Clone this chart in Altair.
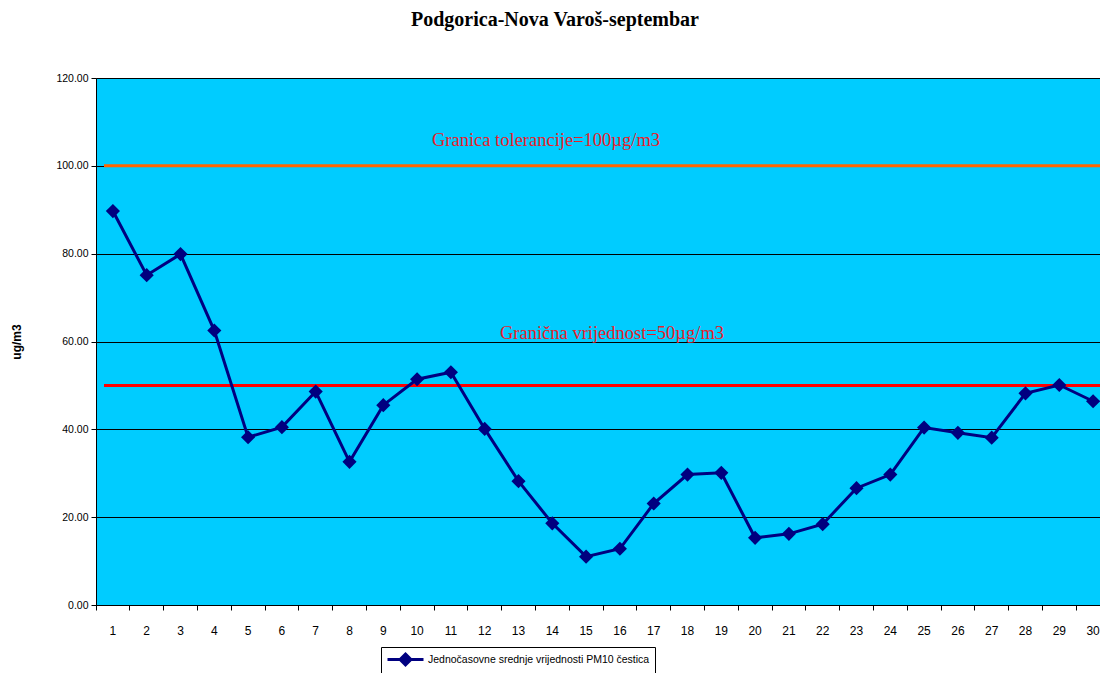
import altair as alt
import pandas as pd

days = list(range(1, 31))
pm10 = [89.7, 75.1, 79.9, 62.5, 38.2, 40.5, 48.6, 32.6, 45.5, 51.4,
        53.0, 40.1, 28.2, 18.6, 11.0, 12.8, 23.1, 29.7, 30.1, 15.3,
        16.2, 18.4, 26.6, 29.7, 40.4, 39.2, 38.1, 48.2, 50.1, 46.4]
series_name = "Jednočasovne srednje vrijednosti PM10 čestica"
y_ticks = [0, 20, 40, 60, 80, 100, 120]
tolerance_limit = 100
limit_value = 50
tolerance_label = "Granica tolerancije=100µg/m3"
limit_label = "Granična vrijednost=50µg/m3"
title_text = "Podgorica-Nova Varoš-septembar"
y_title = "ug/m3"

df = pd.DataFrame({"day": days, "pm10": pm10, "series": [series_name] * len(days)})

W, H = 1004, 527
X_RANGE = 1014

x_enc = alt.X(
    "day:O",
    scale=alt.Scale(type="band", paddingInner=0, paddingOuter=0, range=[0, X_RANGE]),
    bandPosition=0.5,
    title=None,
    axis=alt.Axis(
        bandPosition=0, labelAngle=0, labelPadding=15,
        tickSize=5, tickColor="black", domainColor="black", grid=False,
        labelFont="Liberation Sans", labelFontSize=12, labelColor="black",
    ),
)
y_scale = alt.Scale(domain=[0, 120], nice=False)
y_enc = alt.Y(
    "pm10:Q",
    scale=y_scale,
    title=y_title,
    axis=alt.Axis(
        values=y_ticks, format=".2f", tickSize=5, tickColor="black",
        domainColor="black", gridColor="black", gridOpacity=1, gridWidth=1,
        labelFont="Liberation Sans", labelFontSize=10.5, labelColor="black",
        labelPadding=3, titleFont="Liberation Sans", titleFontSize=12,
        titleFontWeight="bold", titleColor="black", titlePadding=32,
    ),
)

base = alt.Chart(df)

line = base.mark_line(color="#000080", strokeWidth=3).encode(x=x_enc, y=y_enc)

points = base.mark_point(filled=True, shape="diamond", size=200, opacity=1).encode(
    x=x_enc,
    y=y_enc,
    color=alt.Color(
        "series:N",
        scale=alt.Scale(range=["#000080"]),
        legend=alt.Legend(
            title=None, orient="none", legendX=285, legendY=569,
            symbolType="M-1,0L5,0M2,-0.9L2.9,0L2,0.9L1.1,0Z",
            symbolSize=144, symbolStrokeWidth=3, symbolStrokeColor="#000080",
            symbolFillColor="#000080", labelFont="Liberation Sans",
            labelFontSize=10.5, labelColor="black", labelOffset=27, labelLimit=0,
            strokeColor="black", fillColor="white", padding=5,
        ),
    ),
)

lim_df = pd.DataFrame({"v": [tolerance_limit]})
lim2_df = pd.DataFrame({"v": [limit_value]})

tol_rule = alt.Chart(lim_df).mark_rule(color="#FF6600", strokeWidth=3).encode(
    y=alt.Y("v:Q", scale=y_scale), x=alt.value(8), x2=alt.value(W)
)
lim_rule = alt.Chart(lim2_df).mark_rule(color="#FF0000", strokeWidth=3).encode(
    y=alt.Y("v:Q", scale=y_scale), x=alt.value(8), x2=alt.value(W)
)
tol_text = alt.Chart(lim_df).mark_text(
    text=tolerance_label, font="Liberation Serif", fontSize=18.5, color="#E8202A",
    baseline="middle", dy=-26,
).encode(y=alt.Y("v:Q", scale=y_scale), x=alt.value(450))
lim_text = alt.Chart(lim2_df).mark_text(
    text=limit_label, font="Liberation Serif", fontSize=18.5, color="#E8202A",
    baseline="middle", dy=-52,
).encode(y=alt.Y("v:Q", scale=y_scale), x=alt.value(516))

chart = alt.layer(tol_rule, lim_rule, tol_text, lim_text, line, points).properties(
    width=W,
    height=H,
    title=alt.Title(
        title_text, font="Liberation Serif", fontSize=20, fontWeight="bold",
        color="black", anchor="middle", frame="group", dx=-43, offset=43,
    ),
    autosize=alt.AutoSizeParams(type="none"),
    padding={"left": 88, "top": 70, "right": 0, "bottom": 68},
    background="white",
).configure_view(fill="#00CCFF", stroke="#808080", strokeWidth=1)

chart.save("out.html", embed_options={"renderer": "svg", "actions": False})
